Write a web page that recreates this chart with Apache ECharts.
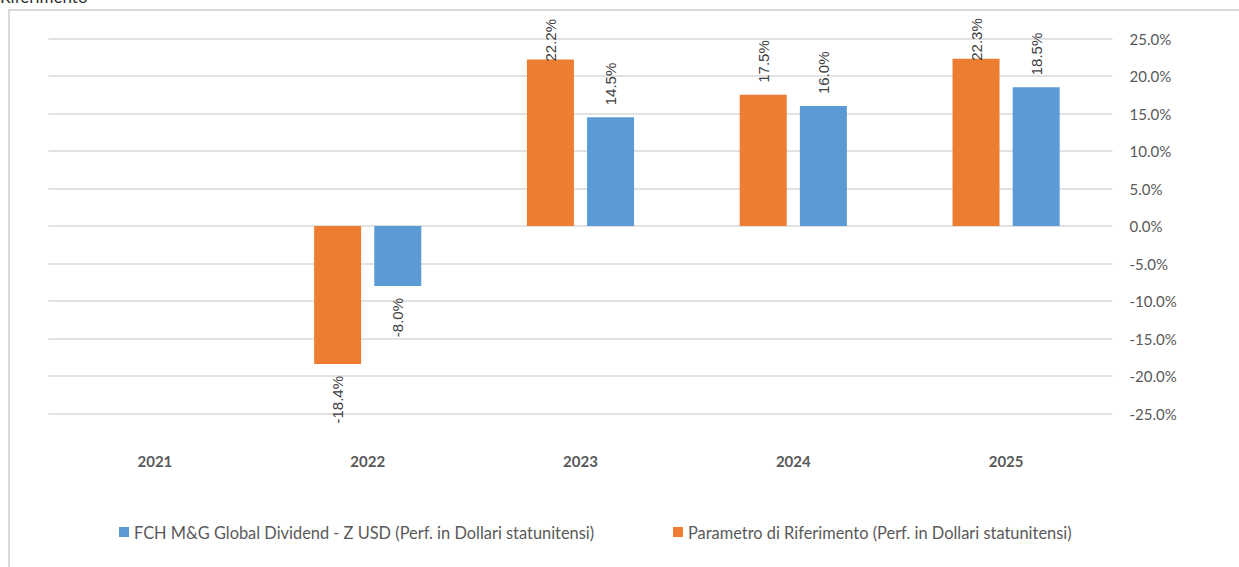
<!DOCTYPE html>
<html>
<head>
<meta charset="utf-8">
<script src="https://cdn.jsdelivr.net/npm/echarts@6/dist/echarts.min.js"></script>
<style>
  html, body { margin: 0; padding: 0; background: #fff; }
  #chart { width: 1239px; height: 567px; }
</style>
</head>
<body>
<div id="chart"></div>
<script>
var years = ['2021', '2022', '2023', '2024', '2025'];
var fundName = 'FCH M&G Global Dividend - Z USD (Perf. in Dollari statunitensi)';
var benchName = 'Parametro di Riferimento (Perf. in Dollari statunitensi)';
var fundValues = [null, -8.0, 14.5, 16.0, 18.5];
var benchValues = [null, -18.4, 22.2, 17.5, 22.3];
var yTicks = { min: -25, max: 25, step: 5 };

(function() {
  var blue = '#5B9BD5';
  var orange = '#ED7D31';
  var grey = '#595959';
  var rule = '#D9D9D9';

  // label per bar: outside the end, clamped near the top like Excel does
  function items(vals) {
    return vals.map(function(v) {
      if (v === null) return null;
      return {
        value: v,
        label: {
          position: v < 0 ? 'bottom' : 'top',
          align: v < 0 ? 'right' : 'left',
          distance: v > 20 ? -2 : 12
        }
      };
    });
  }

  var labelStyle = {
    show: true, rotate: 90, verticalAlign: 'middle',
    fontFamily: 'Liberation Sans', fontSize: 15, color: '#404040',
    formatter: function(p) { return p.value.toFixed(1) + '%'; }
  };

  var legendText = { color: grey, fontFamily: 'Lato', fontSize: 16.4 };

  var chart = echarts.init(document.getElementById('chart'), null, { renderer: 'svg' });
  chart.setOption({
    animation: false,
    graphic: [
      { type: 'rect', shape: { x: 9, y: 10, width: 1240, height: 570 }, style: { fill: 'none', stroke: rule, lineWidth: 2 }, silent: true },
      { type: 'text', left: 0, top: -12, style: { text: 'Riferimento', fontFamily: 'Lato', fontSize: 17, fill: '#333' } }
    ],
    legend: [
      { data: [fundName], left: 119, top: 524, padding: 0, itemWidth: 10, itemHeight: 10, icon: 'rect',
        textStyle: legendText },
      { data: [benchName], left: 673, top: 524, padding: 0, itemWidth: 10, itemHeight: 10, icon: 'rect',
        textStyle: legendText }
    ],
    grid: { left: 48.5, right: 126.5, top: 38.5, bottom: 153.5 },
    xAxis: {
      type: 'category', data: years,
      axisLine: { show: false }, axisTick: { show: false },
      axisLabel: { color: grey, fontFamily: 'Lato', fontWeight: 'bold', fontSize: 15, margin: 40 }
    },
    yAxis: {
      type: 'value', position: 'right',
      min: yTicks.min, max: yTicks.max, interval: yTicks.step,
      axisLine: { show: false }, axisTick: { show: false },
      axisLabel: { color: grey, fontFamily: 'Lato', fontSize: 15, margin: 17,
        formatter: function(v) { return v.toFixed(1) + '%'; } },
      splitLine: { lineStyle: { color: rule, width: 1.5 } }
    },
    series: [
      { name: benchName, type: 'bar', data: items(benchValues), barWidth: 47, barGap: '28%',
        itemStyle: { color: orange }, label: labelStyle },
      { name: fundName, type: 'bar', data: items(fundValues), barWidth: 47,
        itemStyle: { color: blue }, label: labelStyle }
    ]
  });
})();
</script>
</body>
</html>
